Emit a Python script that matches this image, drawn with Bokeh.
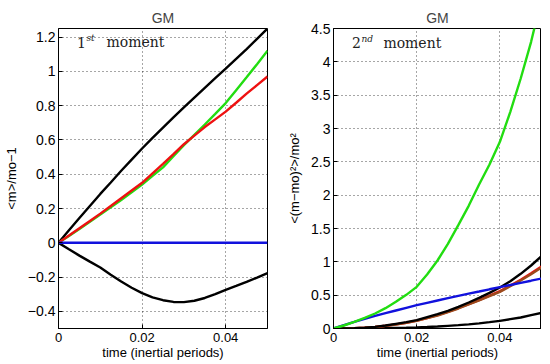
from bokeh.plotting import figure
from bokeh.layouts import row
from bokeh.models import Label, FixedTicker, Range1d
from bokeh.embed import file_html
from bokeh.resources import INLINE

# ---- data ----
t = [0.0, 0.0025, 0.005, 0.0075, 0.01, 0.0125, 0.015, 0.0175, 0.02, 0.0225, 0.025,
     0.0275, 0.03, 0.0325, 0.035, 0.0375, 0.04, 0.0425, 0.045, 0.0475, 0.05]

# 1st moment  <m>/mo - 1
m1_black_up = [0, 0.073, 0.145, 0.215, 0.285, 0.352, 0.42, 0.485, 0.55, 0.612, 0.672,
               0.732, 0.79, 0.847, 0.904, 0.96, 1.016, 1.073, 1.13, 1.19, 1.25]
m1_red = [0, 0.042, 0.085, 0.127, 0.17, 0.215, 0.26, 0.305, 0.35, 0.405, 0.46,
          0.517, 0.575, 0.625, 0.675, 0.72, 0.765, 0.817, 0.87, 0.92, 0.97]
m1_green = [0, 0.04, 0.08, 0.122, 0.165, 0.207, 0.25, 0.295, 0.34, 0.39, 0.44,
            0.505, 0.57, 0.63, 0.69, 0.752, 0.815, 0.89, 0.965, 1.042, 1.12]
m1_blue = [0] * 21
m1_black_low = [0, -0.038, -0.075, -0.11, -0.144, -0.186, -0.226, -0.262, -0.294, -0.318, -0.335,
                -0.345, -0.346, -0.338, -0.322, -0.3, -0.275, -0.252, -0.228, -0.203, -0.177]

# 2nd moment  <(m-mo)^2>/mo^2
m2_green = [0, 0.045, 0.1, 0.16, 0.225, 0.305, 0.4, 0.505, 0.625, 0.81, 1.02,
            1.27, 1.55, 1.84, 2.16, 2.46, 2.8, 3.25, 3.75, 4.3, 4.95]
m2_blue = [0, 0.05, 0.1, 0.145, 0.19, 0.23, 0.27, 0.31, 0.35, 0.385, 0.42,
           0.455, 0.49, 0.523, 0.555, 0.588, 0.62, 0.652, 0.685, 0.717, 0.75]
m2_black_up = [0, 0.001, 0.004, 0.012, 0.025, 0.045, 0.07, 0.095, 0.125, 0.17, 0.215,
               0.265, 0.325, 0.39, 0.46, 0.535, 0.615, 0.71, 0.82, 0.945, 1.085]
m2_brown = [0, 0.001, 0.004, 0.011, 0.022, 0.04, 0.06, 0.085, 0.115, 0.155, 0.195,
            0.245, 0.3, 0.36, 0.42, 0.485, 0.55, 0.635, 0.72, 0.815, 0.915]
m2_red = [0, 0.001, 0.004, 0.011, 0.023, 0.041, 0.062, 0.087, 0.118, 0.158, 0.2,
          0.25, 0.305, 0.365, 0.427, 0.492, 0.56, 0.645, 0.732, 0.828, 0.93]
m2_black_low = [0, 0.0, 0.001, 0.002, 0.004, 0.007, 0.01, 0.013, 0.017, 0.022, 0.03,
                0.04, 0.05, 0.062, 0.077, 0.095, 0.115, 0.14, 0.165, 0.2, 0.235]

x_ticks = [0, 0.02, 0.04]
x_tick_labels = ["0", "0.02", "0.04"]
y1_ticks = [-0.4, -0.2, 0, 0.2, 0.4, 0.6, 0.8, 1.0, 1.2]
y1_tick_labels = ["\u22120.4", "\u22120.2", "0", "0.2", "0.4", "0.6", "0.8", "1", "1.2"]
y2_ticks = [0, 0.5, 1, 1.5, 2, 2.5, 3, 3.5, 4, 4.5]
y2_tick_labels = ["0", "0.5", "1", "1.5", "2", "2.5", "3", "3.5", "4", "4.5"]

FONT = "Liberation Sans"
SERIF = "DejaVu Serif"
GREEN = "#22dd11"
RED = "#ee1111"
BLUE = "#1111dd"
BROWN = "#9c4a1c"


def make_fig(y_range, yticks, ylabels, ylabel, min_left, min_right, fw):
    p = figure(frame_width=fw, frame_height=300, x_range=Range1d(0, 0.05), y_range=y_range,
               output_backend="svg", toolbar_location=None,
               min_border_left=min_left, min_border_right=min_right,
               min_border_top=28, min_border_bottom=26)
    p.title.text = "GM"
    p.title.align = "center"
    p.title.text_font = FONT
    p.title.text_font_size = "14px"
    p.title.text_font_style = "normal"
    p.title.standoff = 5
    p.outline_line_color = "black"
    p.outline_line_alpha = 1
    p.background_fill_color = "white"
    p.border_fill_color = "white"

    p.xaxis.ticker = FixedTicker(ticks=x_ticks)
    p.xaxis.major_label_overrides = {v: s for v, s in zip(x_ticks, x_tick_labels)}
    p.yaxis.ticker = FixedTicker(ticks=yticks)
    p.yaxis.major_label_overrides = {v: s for v, s in zip(yticks, ylabels)}
    p.xaxis.axis_label = "time (inertial periods)"
    p.yaxis.axis_label = ylabel
    for ax in (p.xaxis[0], p.yaxis[0]):
        ax.major_tick_in = 4
        ax.major_tick_out = 0
        ax.major_tick_line_color = "black"
        ax.minor_tick_in = 0
        ax.minor_tick_out = 0
        ax.axis_line_color = "black"
        ax.major_label_text_font = FONT
        ax.major_label_text_font_size = "14px"
        ax.major_label_text_color = "black"
        ax.axis_label_text_font = FONT
        ax.axis_label_text_font_size = "13px"
        ax.axis_label_text_font_style = "normal"
        ax.axis_label_text_color = "black"
    p.xaxis.major_label_text_font_size = "13px"
    p.xaxis.major_label_standoff = 4
    p.xaxis.axis_label_standoff = 0
    p.yaxis.major_label_standoff = 3
    p.yaxis.axis_label_standoff = 6

    p.xgrid.ticker = FixedTicker(ticks=x_ticks)
    p.ygrid.ticker = FixedTicker(ticks=yticks)
    p.xgrid.grid_line_color = "black"
    p.ygrid.grid_line_color = "black"
    p.xgrid.grid_line_dash = "1 3"
    p.ygrid.grid_line_dash = "1 3"
    p.xgrid.grid_line_alpha = 0.7
    p.ygrid.grid_line_alpha = 0.7
    p.xgrid.grid_line_width = 1
    p.ygrid.grid_line_width = 1
    return p


lw = 2.4
p1 = make_fig(Range1d(-0.5, 1.25), y1_ticks, y1_tick_labels, "<m>/mo\u22121", 51, 7, 209)
p1.line(t, m1_black_up, line_color="black", line_width=lw)
p1.line(t, m1_black_low, line_color="black", line_width=lw)
p1.line(t, m1_green, line_color=GREEN, line_width=lw)
p1.line(t, m1_red, line_color=RED, line_width=lw)
p1.line(t, m1_blue, line_color=BLUE, line_width=lw)

p2 = make_fig(Range1d(0, 4.5), y2_ticks, y2_tick_labels, "<(m\u2212mo)\u00b2>/mo\u00b2", 59, 0, 208)
p2.line(t, m2_black_low, line_color="black", line_width=lw)
p2.line(t, m2_red, line_color=RED, line_width=lw)
p2.line(t, m2_brown, line_color=BROWN, line_width=lw)
p2.line(t, m2_black_up, line_color="black", line_width=lw)
p2.line(t, m2_blue, line_color=BLUE, line_width=lw)
p2.line(t, m2_green, line_color=GREEN, line_width=lw)


def moment_label(p, num, sup, yv, gap):
    p.add_layout(Label(x=0.0055, y=yv, text=num, text_font=SERIF, text_font_size="14px",
                       text_baseline="middle", text_align="center", text_color="#222222"))
    p.add_layout(Label(x=0.0055, y=yv, text=sup, text_font=SERIF, text_font_size="9px",
                       text_font_style="italic", x_offset=5, y_offset=4,
                       text_baseline="middle", text_align="left", text_color="#222222"))
    p.add_layout(Label(x=0.0055, y=yv, text="moment", text_font=SERIF, text_font_size="14px",
                       x_offset=gap, text_baseline="middle", text_align="left", text_color="#222222"))


moment_label(p1, "1", "st", 1.17, 25)
moment_label(p2, "2", "nd", 4.29, 27)

layout = row(p1, p2)
open("out.html", "w").write(file_html(layout, INLINE))
